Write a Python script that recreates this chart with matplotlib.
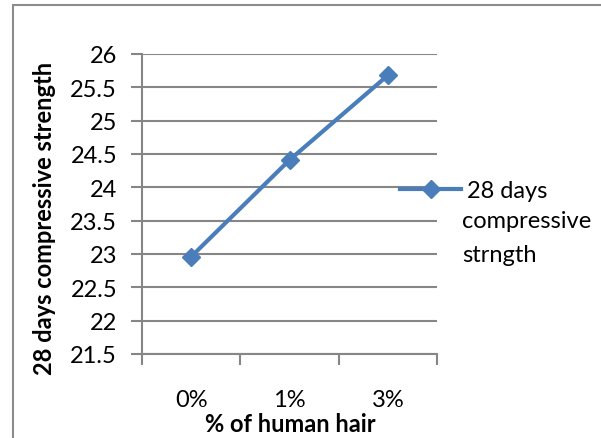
#!/usr/bin/env python3
"""28-day compressive strength vs % of human hair -> out.png."""

import matplotlib
matplotlib.use("Agg")
import matplotlib.pyplot as plt
from matplotlib.patches import Rectangle

categories = ["0%", "1%", "3%"]
strength = [22.96, 24.41, 25.68]
series_name = ["28 days", "compressive", "strngth"]
y_ticks = [21.5, 22, 22.5, 23, 23.5, 24, 24.5, 25, 25.5, 26]

plt.rcParams["font.family"] = ["Lato", "DejaVu Sans"]

W, H = 601, 439
fig = plt.figure(figsize=(W / 100, H / 100), dpi=100)
# chart border (Excel chart area)
fig.patches.append(Rectangle((13 / W, -0.1), 1.2, (H - 6) / H + 0.1,
                             transform=fig.transFigure, fill=False,
                             edgecolor="#8c8c8c", lw=1.5))

ax = fig.add_axes([142 / W, 1 - 355 / H, (437 - 142) / W, (355 - 55) / H])
x = list(range(len(categories)))
line, = ax.plot(x, strength, color="#4a7ebb", lw=3, marker="D",
                markersize=9, zorder=3)

ax.set_xlim(-0.5, len(categories) - 0.5)
ax.set_ylim(21.5, 26)
ax.set_yticks(y_ticks)
ax.set_yticklabels([f"{v:g}" for v in y_ticks], fontsize=17)
ax.set_xticks(x)
ax.set_xticklabels(categories, fontsize=17)
ax.set_xticks([i - 0.5 for i in range(len(categories) + 1)], minor=True)
ax.tick_params(axis="x", which="major", length=0, pad=25)
ax.tick_params(axis="x", which="minor", length=8, width=1.5, color="#868686")
ax.tick_params(axis="y", length=8, width=1.5, color="#868686", pad=10)
ax.grid(axis="y", color="#868686", lw=1.5)
ax.set_axisbelow(True)
for side in ("top", "right"):
    ax.spines[side].set_visible(False)
for side in ("left", "bottom"):
    ax.spines[side].set_color("#868686")
    ax.spines[side].set_linewidth(1.5)

ax.set_xlabel("% of human hair", fontsize=17, fontweight="bold")
ax.xaxis.set_label_coords((290 - 142) / (437 - 142), -(413 - 355) / 300)
ax.set_ylabel("28 days compressive strength", fontsize=17, fontweight="bold")
ax.yaxis.set_label_coords(-(142 - 56) / (437 - 142), (355 - 218) / 300)

# legend: handle sits beside the first line, the rest wraps beneath
leg = ax.legend([line], [series_name[0]], loc="center left",
                bbox_to_anchor=(400 / W, 1 - 192 / H),
                bbox_transform=fig.transFigure, frameon=False, fontsize=17,
                handlelength=2.6, handletextpad=0.25, borderpad=0,
                borderaxespad=0)
fig.text(462 / W, 1 - 222 / H, series_name[1], fontsize=17, va="center")
fig.text(462 / W, 1 - 256 / H, series_name[2], fontsize=17, va="center")

fig.savefig("out.png", dpi=100)
